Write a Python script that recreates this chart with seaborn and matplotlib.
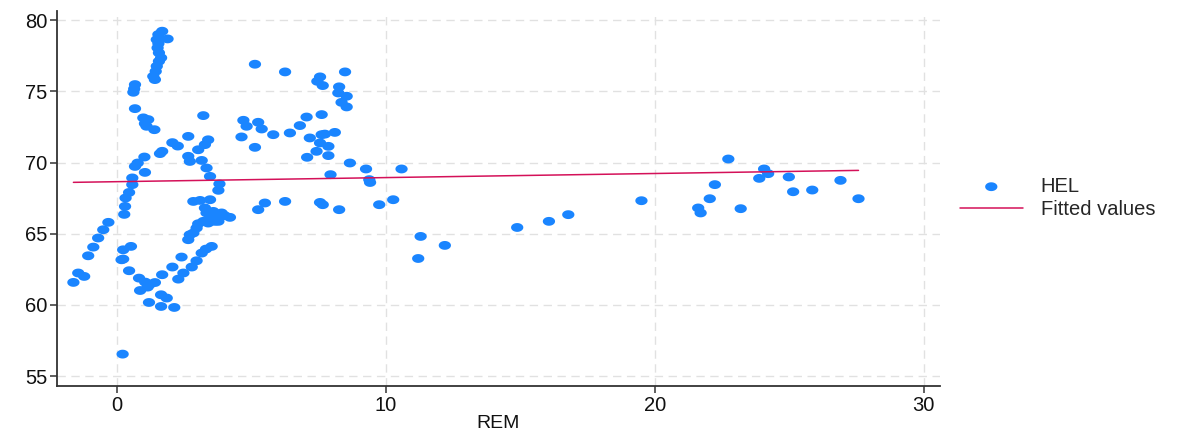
import numpy as np
import pandas as pd
import matplotlib
matplotlib.use("Agg")
import matplotlib.pyplot as plt
from matplotlib.path import Path
import seaborn as sns

# ---- data ----
rem = [
    -1.62, -1.44, -1.22, -1.07, -0.88, -0.70, -0.51, -0.32,
    0.21, 0.45, 0.17, 0.23, 0.23, 0.52, 0.27, 0.30, 0.32, 0.45, 0.57, 0.57,
    0.67, 0.77, 1.02, 1.04, 0.67, 0.61, 0.64, 0.67,
    1.68, 1.54, 1.88, 1.48, 1.54, 1.51, 1.56, 1.64, 1.56, 1.48, 1.44, 1.35, 1.41,
    0.98, 1.16, 1.04, 1.10, 1.39,
    2.06, 2.26, 1.68, 1.60,
    0.82, 1.05, 1.23, 1.41, 0.86, 1.14, 1.68, 2.06, 2.28, 2.40, 1.64, 1.85,
    1.19, 1.64, 2.13,
    2.47, 2.78, 2.96, 3.15, 3.31, 3.52, 2.65, 2.71, 2.84, 2.96, 3.02,
    3.21, 3.39, 3.46, 3.64, 3.77, 3.33, 3.52, 3.58, 3.70, 3.89, 4.01, 4.20, 3.27,
    2.84, 3.09, 3.46, 3.77, 3.81, 3.46, 3.33,
    2.65, 2.71, 3.15, 3.02, 3.27, 3.39, 2.65, 3.21,
    4.63, 5.13, 4.70, 4.82, 5.25, 5.38, 5.81, 6.43, 6.80, 7.05, 7.61,
    7.17, 7.61, 7.73, 8.10, 7.55, 7.86, 7.42, 7.86, 7.07, 8.66, 9.26, 10.58,
    7.94, 9.38, 9.41,
    5.13, 6.25, 7.55, 7.45, 7.65, 8.48, 8.26, 8.23, 8.54, 8.35, 8.54,
    5.25, 5.50, 6.25, 7.55, 7.65, 8.26, 9.75, 10.27,
    11.29, 12.19, 11.20, 14.88, 16.06, 16.78,
    19.50, 22.73, 22.23, 22.04, 21.61, 21.70, 23.19, 24.06, 24.21, 23.88,
    24.98, 25.14, 25.85, 26.90, 27.57,
]
hel = [
    61.58, 62.24, 62.00, 63.45, 64.06, 64.70, 65.28, 65.80,
    56.54, 62.40, 63.17, 63.22, 63.87, 64.11, 66.36, 66.92, 67.51, 67.90, 68.45, 68.92,
    69.73, 69.97, 70.39, 69.31, 73.79, 74.94, 75.18, 75.48,
    79.23, 79.00, 78.69, 78.64, 78.36, 78.06, 77.71, 77.36, 77.12, 76.77, 76.41, 76.06, 75.83,
    73.14, 73.02, 72.74, 72.55, 72.31,
    71.40, 71.16, 70.79, 70.63,
    61.88, 61.60, 61.45, 61.57, 61.01, 61.25, 62.12, 62.66, 61.81, 63.36, 60.71, 60.48,
    60.17, 59.89, 59.82,
    62.24, 62.66, 63.10, 63.64, 63.92, 64.11, 64.58, 64.93, 65.05, 65.40, 65.70,
    65.87, 65.75, 65.99, 65.87, 65.87, 66.46, 66.46, 66.57, 66.34, 66.46, 66.27, 66.15, 66.81,
    67.27, 67.34, 67.39, 68.05, 68.50, 69.03, 69.62,
    70.44, 70.08, 70.15, 70.90, 71.26, 71.60, 71.84, 73.30,
    71.80, 71.07, 72.97, 72.55, 72.83, 72.36, 71.96, 72.08, 72.60, 73.20, 73.37,
    71.73, 71.96, 72.00, 72.12, 71.38, 71.14, 70.79, 70.49, 70.37, 69.97, 69.55, 69.55,
    69.15, 68.80, 68.60,
    76.91, 76.37, 76.02, 75.71, 75.41, 76.37, 75.32, 74.89, 74.66, 74.23, 73.91,
    66.69, 67.16, 67.27, 67.20, 67.04, 66.69, 67.04, 67.39,
    64.81, 64.18, 63.26, 65.44, 65.87, 66.34,
    67.32, 70.25, 68.45, 67.46, 66.81, 66.46, 66.76, 69.55, 69.22, 68.89,
    68.99, 67.95, 68.07, 68.75, 67.46,
]
fitted_ends = [68.61, 69.45]   # fitted values at min and max REM
x_ticks = [0, 10, 20, 30]
y_ticks = [55, 60, 65, 70, 75, 80]

df = pd.DataFrame({"REM": rem, "HEL": hel})
fit_df = pd.DataFrame({"REM": [min(rem), max(rem)], "Fitted values": fitted_ends})

# ---- style ----
sns.set_style("white")
plt.rcParams["font.family"] = ["Liberation Sans", "DejaVu Sans"]

blue = "#1a85ff"
red = "#d41159"
fs = 14.5

# slightly wide ellipse marker
t = np.linspace(0, 2 * np.pi, 41)
ellipse = Path(np.column_stack([np.cos(t), 0.72 * np.sin(t)]), closed=True)

fig = plt.figure(figsize=(11.91, 4.33), dpi=100)
ax = fig.add_axes([57 / 1191, 1 - 386 / 433, (940 - 57) / 1191, (386 - 11) / 433])

sns.scatterplot(data=df, x="REM", y="HEL", ax=ax, marker=ellipse, s=78,
                color=blue, edgecolor="none", linewidth=0, label="HEL", zorder=3)
sns.lineplot(data=fit_df, x="REM", y="Fitted values", ax=ax, color=red,
             linewidth=1.1, label="Fitted values", zorder=4)

ax.set_xlim(-2.23, 30.6)
ax.set_ylim(54.3, 80.65)
ax.set_xticks(x_ticks)
ax.set_yticks(y_ticks)
ax.grid(True, color="#e1e1e1", linestyle=(0, (6, 4)), linewidth=1.0)
ax.set_axisbelow(True)

for s in ["top", "right"]:
    ax.spines[s].set_visible(False)
for s in ["left", "bottom"]:
    ax.spines[s].set_color("#333333")
    ax.spines[s].set_linewidth(1.3)

ax.tick_params(axis="both", direction="out", length=5, width=1.1,
               color="#333333", labelsize=fs, labelcolor="#111111", pad=2,
               left=True, bottom=True)
ax.set_xlabel("REM", fontsize=14, color="#111111")
ax.xaxis.set_label_coords(0.5, -(415 - 386) / 375)
ax.set_ylabel("")

leg = ax.legend(loc="center left", bbox_to_anchor=(950 / 1191, 1 - 198 / 433),
                bbox_transform=fig.transFigure, frameon=False, fontsize=fs,
                handlelength=3.1, handletextpad=0.9, borderpad=0,
                labelspacing=0.2, markerscale=1.0)

fig.savefig("out.png", dpi=100)
